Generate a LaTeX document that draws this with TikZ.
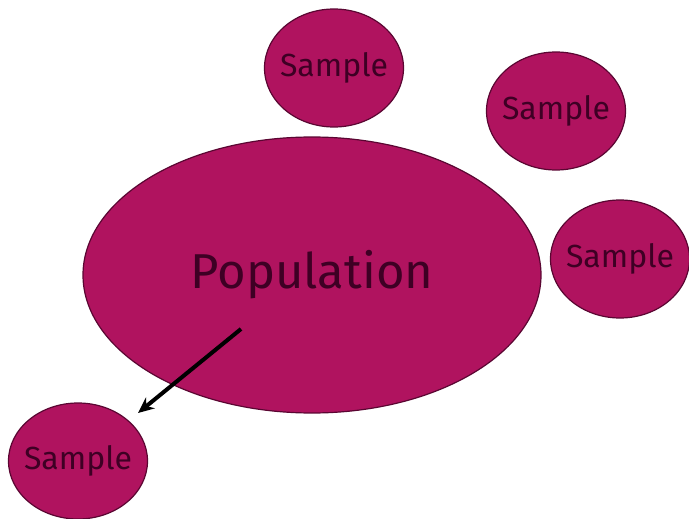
\documentclass[tikz,border=0pt]{standalone}
\usepackage{fontspec}
\setmainfont{Fira Sans}
\usetikzlibrary{arrows.meta,shapes.geometric}
\definecolor{blobfill}{HTML}{B0135F}
\definecolor{blobline}{HTML}{5A0632}
\definecolor{blobtext}{HTML}{3E0024}
\begin{document}
\begin{tikzpicture}[x=1pt,y=-1pt,
  blob/.style={ellipse,draw=blobline,line width=1.2pt,fill=blobfill,inner sep=0pt},
  samp/.style={blob,minimum width=139pt,minimum height=118pt,
    label={[text=blobtext,font=\fontsize{32}{36}\selectfont]center:Sample}},
  arr/.style={-{Stealth[length=16pt,width=14pt]},line width=4pt,black}]
\useasboundingbox (0,0) rectangle (689,519);
\node[blob,minimum width=458pt,minimum height=276pt,
  label={[text=blobtext,font=\fontsize{49}{56}\selectfont]center:Population}] (pop) at (312,275) {};
\node[samp] (s1) at (334,68) {};
\node[samp] (s2) at (556,111) {};
\node[samp] (s3) at (620,259) {};
\node[samp,minimum height=116pt] (s4) at (78,461) {};
\coordinate (a0) at (241,329);
\coordinate (a1) at (138,413);
\draw[arr] (a0) -- (a1);
\end{tikzpicture}
\end{document}
